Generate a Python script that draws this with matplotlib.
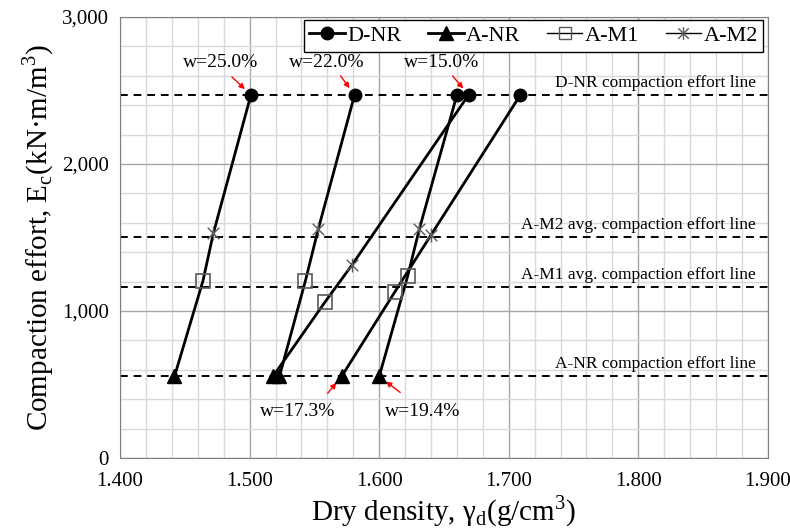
import matplotlib.pyplot as plt
from matplotlib.lines import Line2D
from matplotlib.path import Path
from matplotlib.ticker import MultipleLocator, FuncFormatter

plt.rcParams['font.family'] = 'Liberation Serif'
plt.rcParams['mathtext.fontset'] = 'custom'
plt.rcParams['mathtext.rm'] = 'Liberation Serif'

# Dry density (g/cm3) for each water content, per compaction state
dnr_x = [1.501, 1.581, 1.669, 1.660, 1.709]
dnr_y = [2470, 2470, 2470, 2470, 2470]
am2_x = [1.472, 1.553, 1.579, 1.631, 1.640]
am2_y = [1529, 1558, 1313, 1558, 1517]
am1_x = [1.464, 1.543, 1.558, 1.622, 1.612]
am1_y = [1206, 1204, 1059, 1238, 1129]
anr_x = [1.442, 1.523, 1.518, 1.600, 1.571]
anr_y = [555, 555, 555, 555, 555]

effort_levels = [2470, 1500, 1160, 555]
effort_labels = ['D-NR compaction effort line', 'A-M2 avg. compaction effort line',
                 'A-M1 avg. compaction effort line', 'A-NR compaction effort line']

top_labels = ['w=25.0%', 'w=22.0%', 'w=15.0%']   # D-NR points 0,1,2
bottom_labels = ['w=17.3%', 'w=19.4%']           # A-NR points 4,3

# Excel-style star marker: X with a vertical bar
star = Path([(-1, -1), (1, 1), (-1, 1), (1, -1), (0, -1.2), (0, 1.2)],
            [Path.MOVETO, Path.LINETO, Path.MOVETO, Path.LINETO, Path.MOVETO, Path.LINETO])

fig = plt.figure(figsize=(7.9, 5.31), dpi=100)
ax = fig.add_axes([0.152, 0.1375, 0.820, 0.8305])

# compaction effort lines
for lvl, lab in zip(effort_levels, effort_labels):
    ax.axhline(lvl, color='black', ls=(0, (4, 3)), lw=1.4, zorder=2)
    ax.annotate(lab, xy=(1.0, lvl), xycoords=('axes fraction', 'data'),
                xytext=(-12, 4), textcoords='offset pixels',
                ha='right', va='bottom', fontsize=12.5)

# lines joining same water content
for i in range(len(dnr_x)):
    ax.plot([dnr_x[i], am2_x[i], am1_x[i], anr_x[i]],
            [dnr_y[i], am2_y[i], am1_y[i], anr_y[i]],
            color='black', lw=2, zorder=3)

ax.plot(dnr_x, dnr_y, 'o', color='black', ms=9, ls='none', zorder=5)
ax.plot(anr_x, anr_y, '^', color='black', ms=9.5, ls='none', zorder=5)
ax.plot(am1_x, am1_y, 's', mfc='none', mec='#595959', mew=1.2, ms=10, ls='none', zorder=5)
ax.plot(am2_x, am2_y, marker=star, color='#595959', mew=1.0, ms=10, ls='none', zorder=5)

# water content annotations
top_text = [(-30, 32), (-28, 32), (-27, 32)]
top_arrow = [(-19, 18), (-14, 19), (-16, 19)]
for k, lab in enumerate(top_labels):
    ax.annotate(lab, xy=(dnr_x[k], dnr_y[k]), xytext=top_text[k],
                textcoords='offset pixels', ha='center', va='center', fontsize=14)
    ax.annotate('', xy=(dnr_x[k], dnr_y[k]), xytext=top_arrow[k], textcoords='offset pixels',
                arrowprops=dict(arrowstyle='-|>', color='red', lw=1, shrinkA=0, shrinkB=6,
                                mutation_scale=8))

bot_idx = [4, 3]
bot_text = [(-44, -35), (43, -35)]
bot_arrow = [(-14, -17), (21, -16)]
for k, lab in enumerate(bottom_labels):
    j = bot_idx[k]
    ax.annotate(lab, xy=(anr_x[j], anr_y[j]), xytext=bot_text[k],
                textcoords='offset pixels', ha='center', va='center', fontsize=14)
    ax.annotate('', xy=(anr_x[j], anr_y[j]), xytext=bot_arrow[k], textcoords='offset pixels',
                arrowprops=dict(arrowstyle='-|>', color='red', lw=1, shrinkA=0, shrinkB=6,
                                mutation_scale=8))

ax.set_xlim(1.4, 1.9)
ax.set_ylim(0, 3000)
ax.xaxis.set_major_locator(MultipleLocator(0.1))
ax.xaxis.set_minor_locator(MultipleLocator(0.02))
ax.yaxis.set_major_locator(MultipleLocator(1000))
ax.yaxis.set_minor_locator(MultipleLocator(200))
ax.xaxis.set_major_formatter(FuncFormatter(lambda v, p: f'{v:.3f}'))
ax.yaxis.set_major_formatter(FuncFormatter(lambda v, p: f'{v:,.0f}'))
ax.grid(which='major', color='#a6a6a6', lw=1.0, zorder=0)
ax.grid(which='minor', color='#d9d9d9', lw=1.0, zorder=0)
ax.set_axisbelow(True)
ax.tick_params(which='both', length=0, labelsize=15)
ax.tick_params(axis='x', pad=10)
ax.tick_params(axis='y', pad=8)
for s in ax.spines.values():
    s.set_color('#808080')

ax.set_xlabel('Dry density, γ$_\\mathregular{d}$(g/cm$^\\mathregular{3}$)', fontsize=21, labelpad=2)
ax.set_ylabel('Compaction effort, E$_\\mathregular{c}$(kN·m/m$^\\mathregular{3}$)', fontsize=21, labelpad=4)

handles = [
    Line2D([], [], color='black', lw=2, marker='o', ms=9),
    Line2D([], [], color='black', lw=2, marker='^', ms=9.5),
    Line2D([], [], color='black', lw=1, marker='s', ms=9, mfc='none', mec='#595959'),
    Line2D([], [], color='black', lw=1, marker=star, ms=9, mec='#595959'),
]
leg = ax.legend(handles, ['D-NR', 'A-NR', 'A-M1', 'A-M2'], loc='upper right', ncol=4,
                bbox_to_anchor=(0.993, 0.993), fontsize=16, fancybox=False, framealpha=1,
                edgecolor='black', handlelength=1.6, handletextpad=0.1, columnspacing=1.2,
                borderpad=0.25, borderaxespad=0)
leg.get_frame().set_linewidth(1.0)

fig.savefig('out.png', dpi=100)
